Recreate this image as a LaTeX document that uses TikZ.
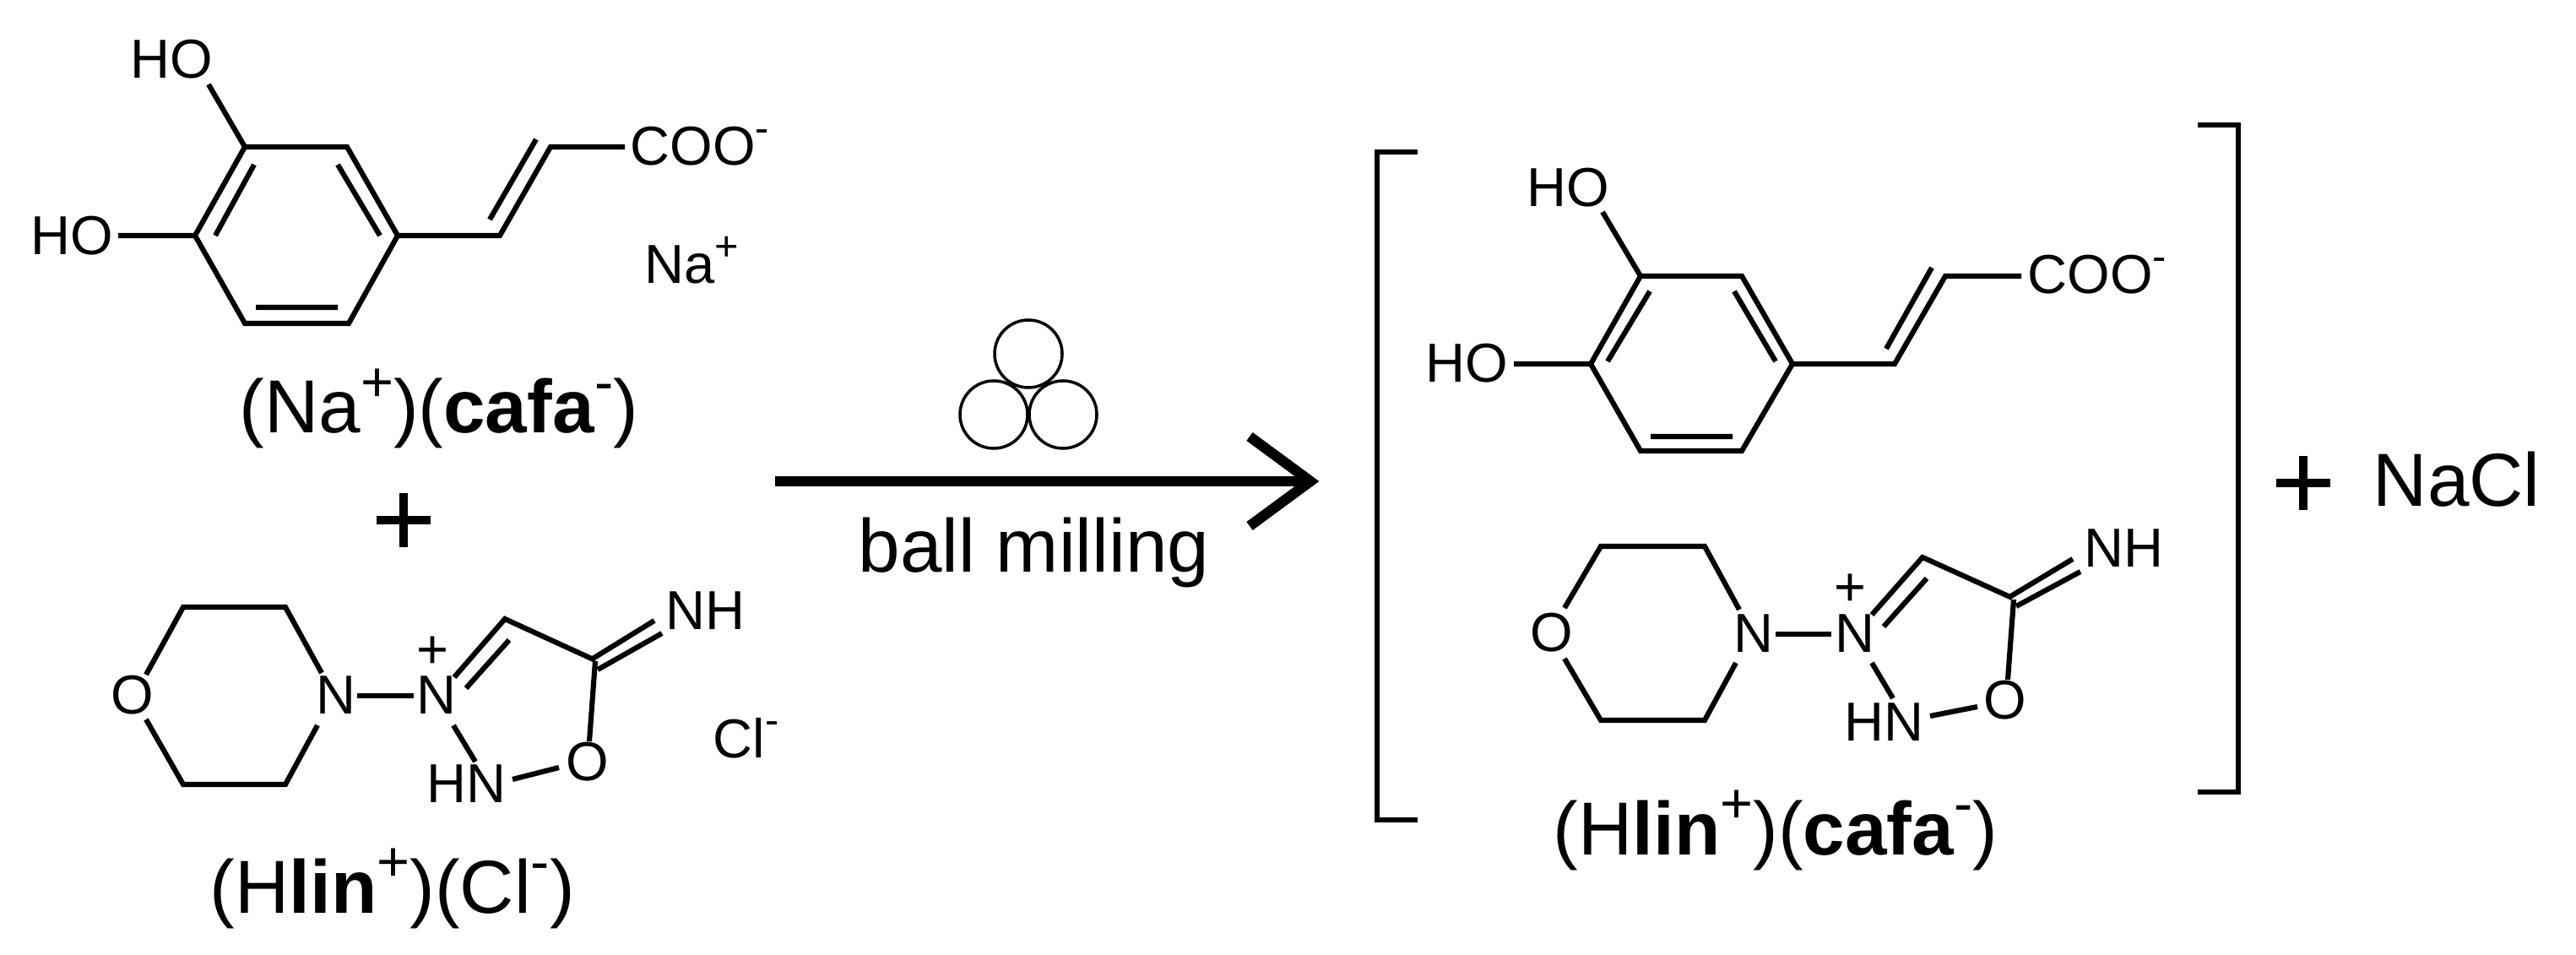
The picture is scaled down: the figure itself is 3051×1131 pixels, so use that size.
\documentclass[tikz,border=0pt]{standalone}
\usepackage{fontspec}
\setmainfont{Liberation Sans}
\newcommand\sups[1]{\raisebox{.42em}{\scalebox{.75}{#1}}}
\newcommand\pxfont[1]{\fontsize{\fpeval{#1*0.2845}pt}{\fpeval{#1*0.2845}pt}\selectfont}
\tikzset{
  bond/.style={line width=1.75pt,line join=miter,line cap=butt,black},
  brack/.style={line width=1.45pt,line join=miter,black},
  ball/.style={line width=1pt,black},
  atomL/.style={inner sep=0pt,anchor=base west,font=\pxfont{65}},
  lab/.style={inner sep=0pt,anchor=base west,font=\pxfont{89}},
  bigplus/.style={line width=2.7pt,black}
}
\begin{document}
\begin{tikzpicture}[x=0.01cm,y=-0.01cm]
\useasboundingbox[fill=white] (0,0) rectangle (3051,1131);
% --- left: caffeate
\draw[bond] (290,174)--(411,174)--(471,279)--(413,383)--(290,383)--(231,279)--cycle;
\draw[bond] (301,195)--(255,279) (400,195)--(450,279) (303,364)--(400,364);
\draw[bond] (247,100)--(290,174) (140,279)--(231,279);
\draw[bond] (471,279)--(592,279)--(652,174)--(740,174) (580,260)--(635,165);
\node[atomL] (ho1) at (154,93) {HO};
\node[atomL] (ho2) at (36,302) {HO};
\node[atomL] (coo1) at (746,196) {COO\sups{-}};
\node[atomL] (na1) at (763,336) {Na\sups{+}};
\node[lab] (l1) at (283,513) {(Na\sups{+})(\textbf{cafa}\sups{-})};
% plus
\draw[bigplus] (446,616)--(510,616) (478,584)--(478,648);
% --- left: linsidomine
\draw[bond] (173,799)--(217,719)--(338,719)--(381,797) (376,859)--(338,929)--(217,929)--(173,852);
\node[atomL] (o1) at (131,846) {O};
\node[atomL] (n1) at (374,846) {N};
\draw[bond] (423,824)--(490,824);
\node[atomL] (n2) at (493,846) {N};
\node[atomL] (p1) at (493,792) {+};
\draw[bond] (538,802)--(598,733)--(705,782) (552,815)--(603,758) (702,780)--(775,735) (708,793)--(784,750);
\draw[bond] (705,783)--(698,878) (662,909)--(607,923) (537,859)--(563,902);
\node[atomL] (nh1) at (788,746) {NH};
\node[atomL] (o2) at (670,924) {O};
\node[atomL] (hn1) at (505,950) {HN};
\node[atomL] (cl1) at (844,897) {Cl\sups{-}};
\node[lab] (l2) at (248,1081) {(H\textbf{lin}\sups{+})(Cl\sups{-})};
% --- arrow
\coordinate (as) at (918,570);
\coordinate (ae) at (1552,570);
\draw[line width=3.5pt,black] (as)--(ae);
\draw[line width=3.5pt,black,line join=miter] (1480,517)--(ae)--(1480,623);
\draw[ball] (1218,419) circle (40);
\draw[ball] (1177,491) circle (40);
\draw[ball] (1259,491) circle (40);
\node[lab] (bm) at (1016,678) {ball milling};
% --- brackets
\draw[brack] (1679,180)--(1631,180)--(1631,971)--(1679,971);
\draw[brack] (2603,148)--(2651,148)--(2651,938)--(2603,938);
% --- right: caffeate
\draw[bond] (1943,327)--(2063,327)--(2123,431)--(2063,534)--(1943,534)--(1884,431)--cycle;
\draw[bond] (1954,345)--(1904,428) (2054,345)--(2103,428) (1955,517)--(2052,517);
\draw[bond] (1898,251)--(1943,327) (1793,431)--(1884,431);
\draw[bond] (2123,431)--(2244,431)--(2304,327)--(2394,327) (2234,413)--(2288,317);
\node[atomL] (ho3) at (1808,245) {HO};
\node[atomL] (ho4) at (1688,453) {HO};
\node[atomL] (coo2) at (2401,348) {COO\sups{-}};
% --- right: linsidomine
\draw[bond] (1853,720)--(1896,647)--(2019,647)--(2060,722) (2056,785)--(2019,853)--(1896,853)--(1853,780);
\node[atomL] (o3) at (1812,772) {O};
\node[atomL] (n3) at (2053,773) {N};
\draw[bond] (2103,751)--(2169,751);
\node[atomL] (n4) at (2173,773) {N};
\node[atomL] (p2) at (2172,718) {+};
\draw[bond] (2217,728)--(2277,660)--(2383,708) (2231,742)--(2282,685) (2380,707)--(2455,662) (2388,718)--(2464,677);
\draw[bond] (2385,710)--(2378,805) (2342,837)--(2286,848) (2217,785)--(2242,827);
\node[atomL] (nh2) at (2468,672) {NH};
\node[atomL] (o4) at (2349,851) {O};
\node[atomL] (hn2) at (2184,877) {HN};
\node[lab] (l3) at (1839,1012) {(H\textbf{lin}\sups{+})(\textbf{cafa}\sups{-})};
% plus NaCl
\draw[bigplus] (2696,572)--(2760,572) (2728,540)--(2728,604);
\node[lab] (nacl) at (2810,600) {NaCl};
\end{tikzpicture}
\end{document}
